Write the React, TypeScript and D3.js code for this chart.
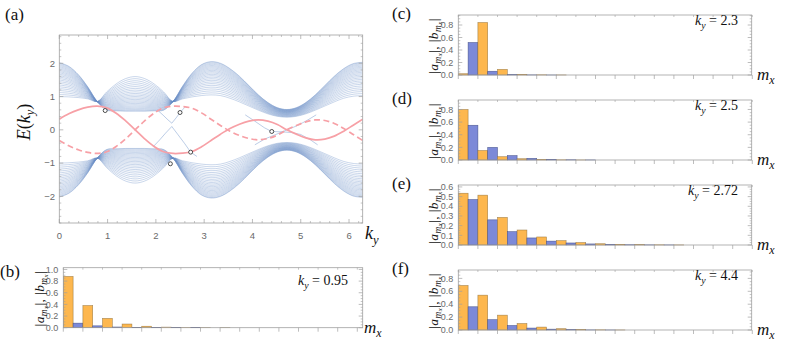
import React from "react";
import * as d3 from "d3";

// ---------------- DATA ----------------
// panel (a): sampled k_y grid and band edges read from the picture
const kyGrid = [0, 0.196, 0.393, 0.589, 0.785, 0.982, 1.178, 1.374, 1.571, 1.767, 1.963, 2.16, 2.356, 2.553, 2.749, 2.945, 3.142, 3.338, 3.534, 3.731, 3.927, 4.123, 4.32, 4.516, 4.712, 4.909, 5.105, 5.301, 5.498, 5.694, 5.89, 6.087, 6.283];
const upperEdgeA = [2.02, 1.91, 1.66, 1.29, 0.85, 0.59, 0.57, 0.56, 0.56, 0.56, 0.57, 0.59, 0.85, 1.31, 1.7, 1.96, 2.05, 2.0, 1.84, 1.61, 1.33, 1.05, 0.82, 0.665, 0.61, 0.665, 0.82, 1.05, 1.33, 1.61, 1.84, 1.99, 2.03];
const upperEdgeB = [1.0, 0.99, 0.97, 0.93, 0.85, 1.14, 1.38, 1.54, 1.6, 1.54, 1.38, 1.14, 0.85, 0.93, 0.99, 1.03, 1.05, 1.03, 0.95, 0.84, 0.715, 0.59, 0.48, 0.405, 0.38, 0.405, 0.48, 0.59, 0.715, 0.84, 0.95, 1.01, 1.03];
const lowerEdgeA = [-2.02, -1.91, -1.66, -1.29, -0.85, -0.59, -0.57, -0.56, -0.56, -0.56, -0.57, -0.59, -0.85, -1.31, -1.7, -1.96, -2.05, -2.0, -1.84, -1.61, -1.33, -1.05, -0.82, -0.665, -0.61, -0.665, -0.82, -1.05, -1.33, -1.61, -1.84, -1.99, -2.03];
const lowerEdgeB = [-1.0, -0.99, -0.97, -0.93, -0.85, -1.14, -1.38, -1.54, -1.6, -1.54, -1.38, -1.14, -0.85, -0.93, -0.99, -1.03, -1.05, -1.03, -0.95, -0.84, -0.715, -0.59, -0.48, -0.405, -0.38, -0.405, -0.48, -0.59, -0.715, -0.84, -0.95, -1.01, -1.03];
// relative position of each bulk line between edge B (0) and edge A (1)
const bandFractions = [0, 0.06, 0.12, 0.178, 0.234, 0.288, 0.34, 0.39, 0.44, 0.487, 0.532, 0.576, 0.618, 0.659, 0.699, 0.737, 0.775, 0.812, 0.848, 0.883, 0.918, 0.951, 0.984, 1];
// pink edge-state curves
const edgeSolid = [0.32, 0.48, 0.6, 0.68, 0.71, 0.66, 0.5, 0.27, 0, -0.27, -0.5, -0.66, -0.71, -0.7, -0.65, -0.51, -0.32, -0.13, 0.04, 0.17, 0.26, 0.3, 0.26, 0.16, 0.0, -0.13, -0.24, -0.3, -0.28, -0.19, -0.04, 0.14, 0.32];
const edgeDashed = [-0.32, -0.48, -0.6, -0.68, -0.71, -0.66, -0.5, -0.27, 0, 0.27, 0.5, 0.66, 0.71, 0.7, 0.65, 0.51, 0.32, 0.13, -0.04, -0.17, -0.26, -0.3, -0.26, -0.16, 0.0, 0.13, 0.24, 0.3, 0.28, 0.19, 0.04, -0.14, -0.32];
// thin in-gap states
const gapStateVKy = [2.03, 2.15, 2.25, 2.33, 2.42, 2.5, 2.6];
const gapStateVE = [0.6, 0.44, 0.3, 0.2, 0.36, 0.52, 0.68];
const gapStateLKy = [1.95, 2.08, 2.2, 2.33, 2.45, 2.6, 2.72, 2.85];
const gapStateLE = [-0.5, -0.3, -0.1, 0.1, -0.13, -0.42, -0.67, -0.8];
const gapState1Ky = [3.85, 4.05, 4.25, 4.4, 4.6, 4.8, 5.0, 5.2, 5.35];
const gapState1E = [0.45, 0.26, 0.06, -0.05, -0.06, -0.08, -0.14, -0.3, -0.45];
const gapState2Ky = [4.05, 4.25, 4.45, 4.72, 4.95, 5.15, 5.32];
const gapState2E = [-0.45, -0.28, -0.16, 0.0, 0.14, 0.3, 0.45];
// open markers
const markerKy = [0.95, 2.3, 2.5, 2.72, 4.4];
const markerE = [0.58, -1.02, 0.52, -0.67, -0.05];
const energyTicks = [-2, -1, 0, 1, 2];
const kyTicks = [0, 1, 2, 3, 4, 5, 6];

// bar panels: |a_m| (orange) and |b_m| (blue), m = 0..14
const aB = [0.88, 0.38, 0.16, 0.063, 0.025, 0.01, 0.004, 0.0015, 0.0006, 0, 0, 0, 0, 0, 0];
const bB = [0.078, 0.032, 0.012, 0.005, 0.002, 0.001, 0.0004, 0, 0, 0, 0, 0, 0, 0, 0];
const aC = [0.02, 0.84, 0.09, 0.01, 0.003, 0.001, 0, 0, 0, 0, 0, 0, 0, 0, 0];
const bC = [0.52, 0.06, 0.006, 0.002, 0.0005, 0, 0, 0, 0, 0, 0, 0, 0, 0, 0];
const aD = [0.8, 0.15, 0.052, 0.02, 0.008, 0.003, 0.001, 0, 0, 0, 0, 0, 0, 0, 0];
const bD = [0.55, 0.2, 0.07, 0.026, 0.01, 0.004, 0.0015, 0, 0, 0, 0, 0, 0, 0, 0];
const aE = [0.535, 0.515, 0.285, 0.155, 0.083, 0.045, 0.025, 0.013, 0.007, 0.004, 0.002, 0.001, 0, 0, 0];
const bE = [0.47, 0.26, 0.138, 0.073, 0.04, 0.021, 0.011, 0.006, 0.003, 0.0015, 0.001, 0, 0, 0, 0];
const aF = [0.69, 0.54, 0.23, 0.1, 0.045, 0.02, 0.008, 0.003, 0.001, 0, 0, 0, 0, 0, 0];
const bF = [0.36, 0.16, 0.07, 0.03, 0.013, 0.005, 0.002, 0.001, 0, 0, 0, 0, 0, 0, 0];
const panelKy = ["0.95", "2.3", "2.5", "2.72", "4.4"];
const ampTicks02 = [0, 0.2, 0.4, 0.6, 0.8, 1.0];
const ampTicks01 = [0, 0.1, 0.2, 0.3, 0.4, 0.5, 0.6];

// ---------------- STYLE ----------------
const SERIF = "'Liberation Serif', 'DejaVu Serif', serif";
const SANS = "'Liberation Sans', 'DejaVu Sans', sans-serif";
const FRAME = "#a0a0a0";
const TICKTXT = "#6a6a6a";
const BAND = "#6a8fc6";
const PINK = "#f7a0a6";
const ORANGE = "#fdb74e";
const BLUE = "#7c89d8";
const CAT_W = 19.6;

function KyText({ x, y, size, anchor = "start", value }: any) {
  return (
    <text x={x} y={y} fontFamily={SERIF} fontSize={size} textAnchor={anchor} fill="#111">
      <tspan fontStyle="italic">k</tspan>
      <tspan fontStyle="italic" fontSize={size * 0.7} dy={size * 0.25}>y</tspan>
      {value !== undefined ? <tspan dy={-size * 0.25}>{"\u00a0=\u00a0" + value}</tspan> : null}
    </text>
  );
}

function MxText({ x, y, size }: any) {
  return (
    <text x={x} y={y} fontFamily={SERIF} fontSize={size} fill="#111">
      <tspan fontStyle="italic">m</tspan>
      <tspan fontStyle="italic" fontSize={size * 0.7} dy={size * 0.25}>x</tspan>
    </text>
  );
}

function AmpLabel({ x, y }: any) {
  const fs = 13.5;
  const sub = (ch: string) => [
    <tspan key={ch + "m"} fontStyle="italic" fontSize={fs * 0.7} dy={fs * 0.2}>m</tspan>,
    <tspan key={ch + "x"} fontStyle="italic" fontSize={fs * 0.5} dy={fs * 0.12}>x</tspan>,
  ];
  return (
    <text transform={`translate(${x},${y}) rotate(-90)`} textAnchor="middle" fontFamily={SERIF} fontSize={fs} fill="#111" letterSpacing={0.4}>
      <tspan>|</tspan>
      <tspan fontStyle="italic">a</tspan>
      {sub("a")}
      <tspan dy={-fs * 0.32}>{"|,\u00a0|"}</tspan>
      <tspan fontStyle="italic">b</tspan>
      {sub("b")}
      <tspan dy={-fs * 0.32}>|</tspan>
    </text>
  );
}

function BandPanel() {
  const left = 59.3, right = 362.7, top = 35, bottom = 223;
  const x = d3.scaleLinear().domain([0, 2 * Math.PI]).range([left, right]);
  const y = d3.scaleLinear().domain([-2.8, 2.85]).range([bottom, top]);
  const smooth = d3.line<[number, number]>().x((d) => x(d[0])).y((d) => y(d[1])).curve(d3.curveCatmullRom.alpha(0.5));
  const straight = d3.line<[number, number]>().x((d) => x(d[0])).y((d) => y(d[1]));
  const bandLines = (A: number[], B: number[]) =>
    bandFractions.map((f) => kyGrid.map((k, i) => [k, B[i] + f * (A[i] - B[i])] as [number, number]));
  const zip = (ks: number[], es: number[]) => ks.map((k, i) => [k, es[i]] as [number, number]);
  const xMinor = d3.range(0, 6.3, 0.2).filter((v) => Math.abs(v - Math.round(v)) > 1e-6);
  const yMinor = d3.range(-2.8, 2.81, 0.2).filter((v) => Math.abs(v - Math.round(v)) > 1e-6);
  return (
    <g>
      <defs>
        <clipPath id="clipA"><rect x={left} y={top} width={right - left} height={bottom - top} /></clipPath>
      </defs>
      <g clipPath="url(#clipA)">
        {[...bandLines(upperEdgeA, upperEdgeB), ...bandLines(lowerEdgeA, lowerEdgeB)].map((pts, i) => (
          <path key={"b" + i} d={smooth(pts) || ""} fill="none" stroke={BAND} strokeWidth={0.6} strokeOpacity={0.6} />
        ))}
        {[zip(gapStateVKy, gapStateVE), zip(gapStateLKy, gapStateLE), zip(gapState1Ky, gapState1E), zip(gapState2Ky, gapState2E)].map((pts, i) => (
          <path key={"g" + i} d={straight(pts) || ""} fill="none" stroke={BAND} strokeWidth={0.6} strokeOpacity={0.75} />
        ))}
        <path d={smooth(zip(kyGrid, edgeSolid)) || ""} fill="none" stroke={PINK} strokeWidth={1.7} />
        <path d={smooth(zip(kyGrid, edgeDashed)) || ""} fill="none" stroke={PINK} strokeWidth={1.7} strokeDasharray="6 3.5" />
        {markerKy.map((k, i) => (
          <circle key={"m" + i} cx={x(k)} cy={y(markerE[i])} r={2} fill="#fff" stroke="#222" strokeWidth={0.8} />
        ))}
      </g>
      <rect x={left} y={top} width={right - left} height={bottom - top} fill="none" stroke={FRAME} strokeWidth={0.8} />
      {kyTicks.map((t) => (
        <g key={"xt" + t}>
          <line x1={x(t)} x2={x(t)} y1={bottom} y2={bottom - 4} stroke={FRAME} strokeWidth={0.7} />
          <line x1={x(t)} x2={x(t)} y1={top} y2={top + 4} stroke={FRAME} strokeWidth={0.7} />
          <text x={x(t)} y={239} textAnchor="middle" fontFamily={SANS} fontSize={9.5} fill={TICKTXT}>{t}</text>
        </g>
      ))}
      {xMinor.map((t, i) => (
        <g key={"xm" + i}>
          <line x1={x(t)} x2={x(t)} y1={bottom} y2={bottom - 2} stroke={FRAME} strokeWidth={0.6} />
          <line x1={x(t)} x2={x(t)} y1={top} y2={top + 2} stroke={FRAME} strokeWidth={0.6} />
        </g>
      ))}
      {energyTicks.map((t) => (
        <g key={"yt" + t}>
          <line x1={left} x2={left + 4} y1={y(t)} y2={y(t)} stroke={FRAME} strokeWidth={0.7} />
          <line x1={right} x2={right - 4} y1={y(t)} y2={y(t)} stroke={FRAME} strokeWidth={0.7} />
          <text x={55} y={y(t) + 3.3} textAnchor="end" fontFamily={SANS} fontSize={9.5} fill={TICKTXT}>{t < 0 ? "\u2212" + -t : t}</text>
        </g>
      ))}
      {yMinor.map((t, i) => (
        <g key={"ym" + i}>
          <line x1={left} x2={left + 2} y1={y(t)} y2={y(t)} stroke={FRAME} strokeWidth={0.6} />
          <line x1={right} x2={right - 2} y1={y(t)} y2={y(t)} stroke={FRAME} strokeWidth={0.6} />
        </g>
      ))}
      <text x={5} y={20} fontFamily={SERIF} fontSize={17} fill="#111">(a)</text>
      <text transform="translate(30,122) rotate(-90)" textAnchor="middle" fontFamily={SERIF} fontSize={18} fill="#111">
        <tspan fontStyle="italic">E</tspan>
        <tspan>(</tspan>
        <tspan fontStyle="italic">k</tspan>
        <tspan fontStyle="italic" fontSize={12.5} dy={4}>y</tspan>
        <tspan dy={-4}>)</tspan>
      </text>
      <KyText x={365} y={239} size={18} />
    </g>
  );
}

function BarPanel({ p }: any) {
  const n = p.a.length;
  const x = d3.scaleBand<number>().domain(d3.range(n)).range([p.left, p.left + n * CAT_W]).padding(0);
  const sub = d3.scaleBand<string>().domain(["a", "b"]).range([0, x.bandwidth()]).padding(0);
  const y = d3.scaleLinear().domain([0, p.yMax]).range([p.bottom, p.top]);
  const step = p.ticks[1] - p.ticks[0];
  const minor = d3.range(0, p.yMax, step / 4).filter((v) => Math.abs(v / step - Math.round(v / step)) > 1e-6);
  const edges = d3.range(n + 1).map((i) => p.left + i * CAT_W);
  const fmt = d3.format(".1f");
  return (
    <g>
      {p.a.map((v: number, i: number) => (
        <g key={"bar" + i}>
          <rect x={(x(i) as number) + (sub("a") as number)} y={y(v)} width={sub.bandwidth()} height={y(0) - y(v)} fill={ORANGE} stroke="#8a6a34" strokeOpacity={0.75} strokeWidth={0.6} />
          <rect x={(x(i) as number) + (sub("b") as number)} y={y(p.b[i])} width={sub.bandwidth()} height={y(0) - y(p.b[i])} fill={BLUE} stroke="#34407a" strokeOpacity={0.75} strokeWidth={0.6} />
        </g>
      ))}
      <rect x={p.left} y={p.top} width={p.right - p.left} height={p.bottom - p.top} fill="none" stroke={FRAME} strokeWidth={0.8} />
      {edges.map((e, i) => (
        <g key={"xe" + i}>
          <line x1={e} x2={e} y1={p.bottom} y2={p.bottom + 4} stroke={FRAME} strokeWidth={0.7} />
          <line x1={e} x2={e} y1={p.top} y2={p.top + 2} stroke={FRAME} strokeWidth={0.6} />
        </g>
      ))}
      {p.ticks.map((t: number) => (
        <g key={"yt" + t}>
          <line x1={p.left} x2={p.left + 4} y1={y(t)} y2={y(t)} stroke={FRAME} strokeWidth={0.7} />
          <line x1={p.right} x2={p.right - 4} y1={y(t)} y2={y(t)} stroke={FRAME} strokeWidth={0.7} />
          <text x={p.left - 5} y={y(t) + 3.2} textAnchor="end" fontFamily={SANS} fontSize={9} fill={TICKTXT}>{fmt(t)}</text>
        </g>
      ))}
      {minor.map((t: number, i: number) => (
        <g key={"ym" + i}>
          <line x1={p.left} x2={p.left + 2} y1={y(t)} y2={y(t)} stroke={FRAME} strokeWidth={0.6} />
          <line x1={p.right} x2={p.right - 2} y1={y(t)} y2={y(t)} stroke={FRAME} strokeWidth={0.6} />
        </g>
      ))}
      <text x={p.labelX} y={p.labelY} fontFamily={SERIF} fontSize={17} fill="#111">{p.label}</text>
      <AmpLabel x={p.ampX} y={(p.top + p.bottom) / 2 + 1} />
      <KyText x={p.kyX} y={p.kyY} size={14} anchor="end" value={p.ky} />
      <MxText x={p.mxX} y={p.bottom + 5} size={17} />
    </g>
  );
}

export default function App() {
  const rightPanel = (T: number, label: string, a: number[], b: number[], ky: string, yMax: number, ticks: number[]) => ({
    label, a, b, ky, yMax, ticks,
    left: 458.3, right: 751.7, top: T + 15, bottom: T + 75,
    labelX: 392, labelY: T + 19, ampX: 438, kyX: 738, kyY: T + 25, mxX: 757,
  });
  const panels = [
    { label: "(b)", a: aB, b: bB, ky: panelKy[0], yMax: 1.03, ticks: ampTicks02,
      left: 63.3, right: 362.7, top: 267.7, bottom: 327.7, labelX: 0, labelY: 277, ampX: 44, kyX: 348, kyY: 285, mxX: 364 },
    rightPanel(0, "(c)", aC, bC, panelKy[1], 0.96, ampTicks02.slice(0, 5)),
    rightPanel(85, "(d)", aD, bD, panelKy[2], 0.95, ampTicks02.slice(0, 5)),
    rightPanel(170, "(e)", aE, bE, panelKy[3], 0.62, ampTicks01),
    rightPanel(255, "(f)", aF, bF, panelKy[4], 0.93, ampTicks02.slice(0, 5)),
  ];
  return (
    <svg width={788} height={343} viewBox="0 0 788 343" style={{ position: "absolute", left: 0, top: 0, background: "#fff" }}>
      <BandPanel />
      {panels.map((p) => <BarPanel key={p.label} p={p} />)}
    </svg>
  );
}
